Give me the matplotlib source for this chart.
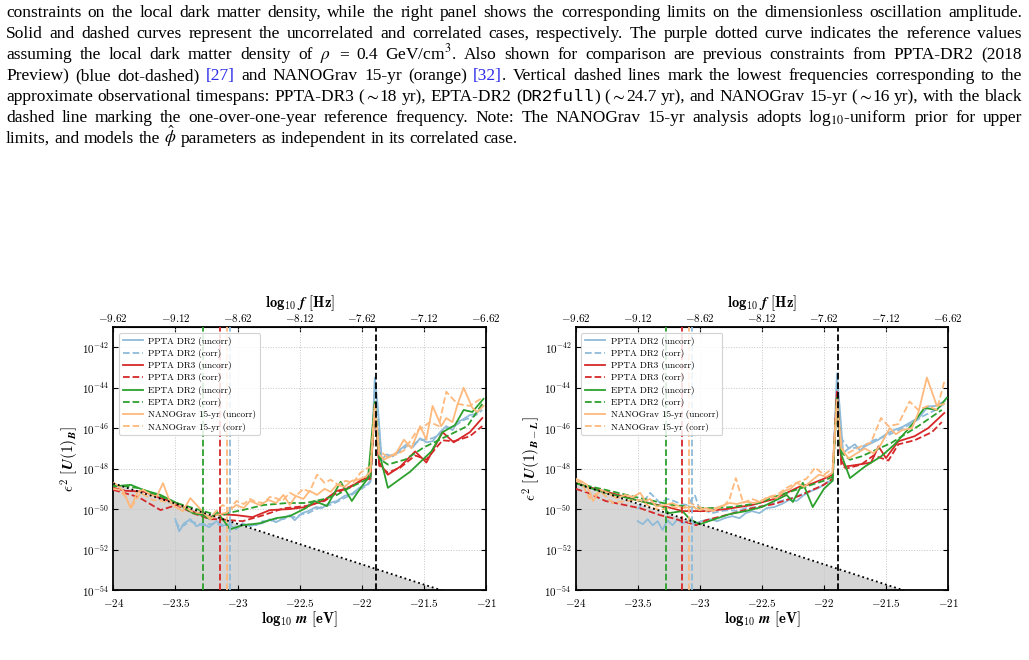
import numpy as np
import matplotlib
matplotlib.use("Agg")
import matplotlib.pyplot as plt
from matplotlib.transforms import IdentityTransform
from matplotlib.ticker import FixedLocator, FuncFormatter, NullLocator

plt.rcParams['mathtext.fontset'] = 'cm'

# ---------------- caption text (one entry per printed line) ----------------
caption_lines = [
    "constraints on the local dark matter density, while the right panel shows the corresponding limits on the dimensionless oscillation amplitude.",
    "Solid and dashed curves represent the uncorrelated and correlated cases, respectively. The purple dotted curve indicates the reference values",
    "assuming the local dark matter density of $\\rho$ = 0.4 GeV/cm$^3$. Also shown for comparison are previous constraints from PPTA-DR2 (2018",
    "Preview) (blue dot-dashed) B:[27] and NANOGrav 15-yr (orange) B:[32]|. Vertical dashed lines mark the lowest frequencies corresponding to the",
    "approximate observational timespans: PPTA-DR3 (|$\\sim$|18 yr), EPTA-DR2 (|M:DR2full|) (|$\\sim$|24.7 yr), and NANOGrav 15-yr (|$\\sim$|16 yr), with the black",
    "dashed line marking the one-over-one-year reference frequency. Note: The NANOGrav 15-yr analysis adopts log$_{10}$-uniform prior for upper",
    "limits, and models the $\\hat{\\phi}$ parameters as independent in its correlated case.",
]

# ---------------- data: log10 m [eV] and log10 eps^2 ----------------
# left panel, U(1)_B
left_ppta2u_m = [-23.5, -23.47, -23.43, -23.38, -23.33, -23.28, -23.23, -23.17, -23.12, -23.06, -23.01, -22.96,
                 -22.9, -22.85, -22.8, -22.74, -22.69, -22.63, -22.58, -22.54, -22.48, -22.43, -22.37, -22.32,
                 -22.26, -22.2, -22.14, -22.08, -22.02, -21.96, -21.93, -21.895, -21.87, -21.84, -21.8, -21.75,
                 -21.7, -21.64, -21.59, -21.53, -21.48, -21.43, -21.37, -21.32, -21.27, -21.23, -21.18, -21.13,
                 -21.08, -21.03]
left_ppta2u_y = [-50.5, -51.1, -50.7, -50.5, -50.85, -50.7, -50.9, -50.6, -50.8, -50.8, -51.0, -50.7,
                 -50.85, -50.75, -50.7, -50.5, -50.65, -50.45, -50.3, -50.55, -50.2, -50.1, -49.9, -49.95,
                 -49.7, -49.6, -49.35, -49.25, -48.95, -48.8, -48.6, -43.5, -45.0, -47.55, -47.3, -47.4,
                 -47.1, -46.8, -46.95, -46.5, -46.7, -46.65, -46.2, -45.9, -46.1, -45.7, -45.55, -45.35,
                 -45.3, -44.9]
left_ppta2c_m = left_ppta2u_m
left_ppta2c_y = [-50.6, -50.9, -50.8, -50.6, -50.7, -50.8, -50.75, -50.7, -50.85, -50.7, -50.9, -50.8,
                 -50.75, -50.8, -50.6, -50.6, -50.5, -50.5, -50.35, -50.4, -50.25, -50.2, -50.0, -49.9,
                 -49.8, -49.65, -49.45, -49.3, -49.05, -48.85, -48.65, -43.9, -45.3, -47.6, -47.45, -47.3,
                 -47.2, -46.9, -46.8, -46.6, -46.55, -46.5, -46.3, -46.0, -45.95, -45.8, -45.6, -45.5,
                 -45.35, -45.1]
left_dr3u_m = [-24.0, -23.9, -23.76, -23.62, -23.49, -23.36, -23.22, -23.15, -23.01, -22.88, -22.74, -22.58,
               -22.45, -22.3, -22.2, -22.1, -22.0, -21.93, -21.895, -21.86, -21.79, -21.69, -21.57, -21.48,
               -21.35, -21.26, -21.13, -21.03]
left_dr3u_y = [-48.95, -49.1, -49.13, -49.46, -49.7, -50.13, -50.4, -50.25, -50.3, -50.4, -50.05, -50.0,
               -49.9, -49.55, -49.1, -48.95, -48.55, -48.4, -44.85, -47.7, -48.3, -47.9, -47.15, -47.7,
               -46.2, -46.7, -46.2, -45.5]
left_dr3c_m = [-24.0, -23.8, -23.62, -23.49, -23.36, -23.22, -23.15, -22.96, -22.79, -22.63, -22.45, -22.3,
               -22.2, -22.0, -21.93, -21.895, -21.86, -21.79, -21.69, -21.57, -21.48, -21.35, -21.26, -21.13,
               -21.03]
left_dr3c_y = [-49.05, -49.4, -50.05, -49.8, -50.2, -50.5, -50.5, -50.6, -50.3, -49.96, -49.85, -49.6,
               -49.2, -48.6, -48.5, -44.9, -47.85, -48.2, -47.95, -47.35, -47.55, -46.6, -46.65, -46.4,
               -45.9]
left_eptau_m = [-24.0, -23.86, -23.76, -23.62, -23.49, -23.36, -23.28, -23.22, -23.17, -23.12, -23.06, -22.96,
                -22.82, -22.69, -22.58, -22.45, -22.38, -22.28, -22.17, -22.08, -22.02, -21.95, -21.895, -21.86,
                -21.79, -21.61, -21.44, -21.35, -21.25, -21.18, -21.11, -21.02]
left_eptau_y = [-48.88, -48.8, -49.05, -49.3, -49.7, -50.2, -50.3, -50.5, -50.1, -50.5, -51.0, -50.8,
                -50.7, -50.45, -50.35, -49.95, -49.6, -49.85, -48.65, -49.6, -49.05, -48.47, -44.7, -47.2,
                -48.95, -48.15, -47.15, -46.2, -45.85, -45.1, -45.2, -44.55]
left_eptac_m = [-24.0, -23.8, -23.62, -23.49, -23.33, -23.22, -23.12, -23.06, -22.96, -22.79, -22.6, -22.45,
                -22.3, -22.2, -22.1, -22.0, -21.93, -21.895, -21.86, -21.79, -21.65, -21.5, -21.35, -21.15,
                -21.02]
left_eptac_y = [-48.8, -48.96, -49.37, -49.7, -50.0, -50.2, -50.3, -50.17, -50.05, -49.8, -49.7, -49.7,
                -49.5, -49.3, -48.95, -48.65, -48.45, -44.8, -47.5, -47.8, -47.55, -46.95, -46.5, -45.9,
                -44.7]
left_ngu_m = [-24.0, -23.97, -23.92, -23.86, -23.81, -23.76, -23.7, -23.65, -23.6, -23.55, -23.5, -23.44,
              -23.38, -23.3, -23.22, -23.17, -23.09, -23.01, -22.95, -22.9, -22.82, -22.75, -22.69, -22.63,
              -22.58, -22.53, -22.47, -22.42, -22.36, -22.3, -22.25, -22.2, -22.14, -22.08, -22.03, -21.97,
              -21.93, -21.895, -21.86, -21.82, -21.77, -21.72, -21.66, -21.6, -21.53, -21.48, -21.43, -21.36,
              -21.32, -21.27, -21.23, -21.18, -21.11, -21.07, -21.02]
left_ngu_y = [-48.7, -48.8, -49.1, -49.95, -49.2, -49.05, -49.3, -49.37, -48.72, -49.54, -49.9, -50.1,
              -49.46, -50.0, -50.5, -50.3, -50.17, -49.8, -49.95, -49.6, -49.8, -49.55, -49.7, -49.3,
              -49.8, -49.35, -49.5, -49.1, -49.3, -49.0, -49.15, -48.8, -48.9, -48.6, -48.55, -48.4,
              -48.15, -44.85, -47.3, -47.55, -47.4, -47.2, -46.57, -47.0, -45.9, -46.57, -44.9, -45.9,
              -45.5, -45.7, -44.84, -44.0, -45.0, -45.2, -44.9]
left_ngc_m = [-24.0, -23.95, -23.9, -23.86, -23.78, -23.68, -23.6, -23.49, -23.42, -23.36, -23.28, -23.22,
              -23.12, -23.06, -23.01, -22.95, -22.9, -22.85, -22.79, -22.74, -22.69, -22.64, -22.58, -22.53,
              -22.47, -22.42, -22.36, -22.3, -22.25, -22.19, -22.13, -22.07, -22.01, -21.96, -21.93, -21.895,
              -21.86, -21.8, -21.72, -21.66, -21.56, -21.45, -21.38, -21.32, -21.23, -21.13, -21.03]
left_ngc_y = [-49.0, -49.05, -49.4, -49.95, -49.2, -49.55, -49.6, -49.8, -49.9, -50.15, -50.2, -50.4,
              -49.8, -50.0, -49.6, -49.75, -49.5, -49.65, -49.7, -49.4, -49.46, -49.6, -49.2, -49.35,
              -49.0, -49.15, -48.3, -48.7, -48.55, -48.8, -48.6, -48.7, -48.2, -48.0, -47.9, -44.9,
              -47.1, -47.4, -47.3, -47.1, -46.17, -45.7, -45.9, -44.2, -44.8, -44.9, -44.5]

# right panel, U(1)_{B-L}
right_ppta2u_m = [-23.5, -23.46, -23.42, -23.38, -23.34, -23.3, -23.26, -23.22, -23.18, -23.14, -23.1, -23.05,
                  -23.01, -22.96, -22.91, -22.86, -22.8, -22.74, -22.68, -22.63, -22.58, -22.52, -22.46, -22.4,
                  -22.34, -22.28, -22.22, -22.16, -22.1, -22.04, -21.98, -21.93, -21.895, -21.87, -21.845, -21.8,
                  -21.75, -21.71, -21.67, -21.62, -21.56, -21.5, -21.43, -21.37, -21.29, -21.23, -21.16, -21.1,
                  -21.03]
right_ppta2u_y = [-50.6, -50.75, -50.5, -50.8, -50.6, -51.03, -50.55, -50.8, -50.5, -50.7, -50.6, -50.75,
                  -50.65, -50.55, -50.5, -50.6, -50.45, -50.35, -50.45, -50.2, -50.1, -50.2, -49.95, -49.9,
                  -49.75, -49.55, -49.6, -49.3, -49.1, -48.95, -48.7, -48.55, -43.3, -45.2, -47.23, -47.0,
                  -46.8, -47.1, -46.9, -46.75, -46.57, -46.3, -46.08, -45.95, -45.67, -45.45, -44.93, -44.9,
                  -44.68]
right_ppta2c_m = [-23.5, -23.45, -23.4, -23.32, -23.26, -23.21, -23.15, -23.1, -23.04, -23.0, -22.95, -22.9,
                  -22.83, -22.76, -22.7, -22.63, -22.55, -22.45, -22.35, -22.25, -22.15, -22.05, -21.98, -21.93,
                  -21.895, -21.86, -21.8, -21.7, -21.6, -21.5, -21.4, -21.3, -21.2, -21.1, -21.03]
right_ppta2c_y = [-50.0, -49.6, -49.2, -49.7, -49.5, -49.6, -49.75, -49.8, -49.3, -50.05, -50.1, -50.2,
                  -50.1, -50.05, -50.1, -49.95, -49.9, -49.8, -49.6, -49.45, -49.2, -48.95, -48.7, -48.6,
                  -44.0, -46.5, -47.0, -46.95, -46.6, -46.4, -46.1, -45.8, -45.4, -45.1, -44.8]
right_dr3u_m = [-24.0, -23.9, -23.76, -23.48, -23.22, -23.14, -22.95, -22.79, -22.58, -22.4, -22.3, -22.2,
                -22.1, -22.0, -21.93, -21.895, -21.86, -21.83, -21.72, -21.62, -21.56, -21.5, -21.4, -21.27,
                -21.16, -21.03]
right_dr3u_y = [-48.7, -48.9, -49.13, -49.6, -49.96, -50.1, -50.1, -50.0, -49.8, -49.5, -49.2, -48.9,
                -48.75, -48.5, -48.3, -44.2, -47.6, -47.9, -47.8, -47.7, -46.9, -47.48, -46.65, -46.4,
                -46.0, -45.25]
right_dr3c_m = [-24.0, -23.9, -23.76, -23.48, -23.32, -23.22, -23.08, -23.03, -22.95, -22.79, -22.58, -22.4,
                -22.2, -22.0, -21.93, -21.895, -21.86, -21.82, -21.7, -21.6, -21.48, -21.4, -21.27, -21.13,
                -21.05]
right_dr3c_y = [-49.0, -49.2, -49.6, -49.96, -50.3, -50.45, -50.7, -50.8, -50.55, -50.3, -49.96, -49.75,
                -49.35, -48.8, -48.5, -44.3, -47.8, -48.0, -47.8, -47.35, -47.6, -46.8, -46.6, -46.2,
                -45.7]
right_eptau_m = [-24.0, -23.76, -23.48, -23.3, -23.25, -23.14, -23.08, -23.0, -22.88, -22.76, -22.63, -22.5,
                 -22.4, -22.3, -22.25, -22.17, -22.09, -22.0, -21.93, -21.895, -21.86, -21.79, -21.67, -21.54,
                 -21.43, -21.29, -21.19, -21.09, -21.01]
right_eptau_y = [-48.72, -49.2, -49.6, -49.88, -50.2, -50.1, -50.5, -50.75, -50.5, -50.25, -50.1, -49.9,
                 -49.6, -49.3, -49.65, -48.7, -49.9, -49.0, -48.6, -44.5, -47.3, -48.47, -47.9, -47.4,
                 -46.8, -45.83, -45.0, -45.1, -44.5]
right_eptac_m = [-24.0, -23.76, -23.48, -23.22, -22.95, -22.74, -22.52, -22.4, -22.2, -22.0, -21.93, -21.895,
                 -21.86, -21.79, -21.7, -21.46, -21.24, -21.05]
right_eptac_y = [-48.72, -49.05, -49.46, -49.8, -49.96, -49.9, -49.7, -49.4, -49.0, -48.6, -48.4, -44.6,
                 -47.2, -47.56, -47.4, -46.74, -45.9, -45.1]
right_ngu_m = [-24.0, -23.95, -23.91, -23.86, -23.8, -23.74, -23.67, -23.6, -23.54, -23.48, -23.44, -23.4,
               -23.35, -23.28, -23.22, -23.14, -23.06, -23.0, -22.95, -22.89, -22.84, -22.76, -22.7, -22.63,
               -22.56, -22.5, -22.44, -22.38, -22.32, -22.27, -22.22, -22.16, -22.1, -22.04, -21.98, -21.93,
               -21.895, -21.86, -21.8, -21.75, -21.67, -21.6, -21.54, -21.47, -21.42, -21.37, -21.29, -21.24,
               -21.17, -21.09, -21.03]
right_ngu_y = [-48.5, -48.64, -48.8, -49.6, -49.05, -49.2, -49.46, -49.3, -49.4, -49.2, -49.6, -49.5,
               -49.88, -49.8, -49.7, -49.96, -49.88, -50.05, -49.95, -50.1, -49.88, -49.7, -49.75, -49.63,
               -49.7, -49.6, -49.4, -49.45, -49.1, -49.0, -48.7, -48.9, -48.6, -48.3, -48.4, -48.2,
               -44.6, -47.0, -47.5, -47.3, -47.0, -47.25, -46.8, -46.0, -46.3, -46.1, -46.0, -45.25,
               -43.5, -44.9, -44.8]
right_ngc_m = [-24.0, -23.95, -23.89, -23.8, -23.7, -23.6, -23.48, -23.4, -23.32, -23.22, -23.15, -23.08,
               -23.0, -22.95, -22.88, -22.81, -22.76, -22.71, -22.65, -22.58, -22.52, -22.45, -22.38, -22.3,
               -22.22, -22.14, -22.07, -22.0, -21.93, -21.895, -21.86, -21.83, -21.7, -21.62, -21.54, -21.48,
               -21.4, -21.31, -21.24, -21.16, -21.09, -21.03]
right_ngc_y = [-48.6, -48.72, -49.46, -49.13, -49.7, -49.6, -49.55, -49.9, -50.05, -49.88, -50.0, -49.7,
               -49.9, -50.1, -49.95, -49.88, -49.5, -48.47, -49.7, -49.5, -49.63, -49.4, -49.3, -48.95,
               -48.7, -48.5, -47.95, -48.3, -48.0, -44.7, -46.8, -47.3, -46.9, -46.7, -45.5, -45.9,
               -45.8, -44.68, -45.1, -44.9, -45.1, -43.7]

# reference (rho = 0.4 GeV/cm^3) line, same in both panels
ref_m = [-24.0, -21.0]
ref_y = [-48.73, -54.73]

# lowest-frequency markers: EPTA-DR2, PPTA-DR3, NANOGrav 15-yr, PPTA-DR2, 1/yr
vline_m = [-23.276, -23.141, -23.088, -23.061, -21.886]

labels = ["PPTA DR2 (uncorr)", "PPTA DR2 (corr)", "PPTA DR3 (uncorr)", "PPTA DR3 (corr)",
          "EPTA DR2 (uncorr)", "EPTA DR2 (corr)", "NANOGrav 15-yr (uncorr)", "NANOGrav 15-yr (corr)"]
bottom_ticks = [-24, -23.5, -23, -22.5, -22, -21.5, -21]
top_ticks = [-9.62, -9.12, -8.62, -8.12, -7.62, -7.12, -6.62]
y_ticks_exp = [-54, -52, -50, -48, -46, -44, -42]
f_offset = 14.38

BLUE = '#8fbbd9'
RED = '#d62728'
GREEN = '#2ca02c'
ORANGE = '#ffb97c'
colors = [BLUE, BLUE, RED, RED, GREEN, GREEN, ORANGE, ORANGE]
vline_colors = [GREEN, RED, ORANGE, BLUE, 'black']

panels = [
    ([(left_ppta2u_m, left_ppta2u_y), (left_ppta2c_m, left_ppta2c_y), (left_dr3u_m, left_dr3u_y),
      (left_dr3c_m, left_dr3c_y), (left_eptau_m, left_eptau_y), (left_eptac_m, left_eptac_y),
      (left_ngu_m, left_ngu_y), (left_ngc_m, left_ngc_y)],
     r'$\boldsymbol{\epsilon^2}\ \mathbf{[}\boldsymbol{U}\mathbf{(1)}_{\boldsymbol{B}}\mathbf{]}$',
     [113.3, 327, 486, 590]),
    ([(right_ppta2u_m, right_ppta2u_y), (right_ppta2c_m, right_ppta2c_y), (right_dr3u_m, right_dr3u_y),
      (right_dr3c_m, right_dr3c_y), (right_eptau_m, right_eptau_y), (right_eptac_m, right_eptac_y),
      (right_ngu_m, right_ngu_y), (right_ngc_m, right_ngc_y)],
     r'$\boldsymbol{\epsilon^2}\ \mathbf{[}\boldsymbol{U}\mathbf{(1)}_{\boldsymbol{B-L}}\mathbf{]}$',
     [575.7, 327, 948, 590]),
]

W, H = 1029, 660
fig = plt.figure(figsize=(W / 100, H / 100), dpi=100)

for series, ylab, (x0, y0, x1, y1) in panels:
    ax = fig.add_axes([x0 / W, 1 - y1 / H, (x1 - x0) / W, (y1 - y0) / H])
    ax.set_yscale('log')
    rx = np.array(ref_m)
    ry = 10.0 ** np.array(ref_y)
    ax.fill_between(rx, 1e-60, ry, color='#d6d6d6', lw=0, zorder=0)
    ax.plot(rx, ry, color='black', ls=':', lw=1.3, zorder=5)
    for xv, c in zip(vline_m, vline_colors):
        ax.axvline(xv, color=c, ls='--', lw=1.3, zorder=4)
    for i, (mm, yy) in enumerate(series):
        ls = '-' if i % 2 == 0 else '--'
        ax.plot(mm, 10.0 ** np.array(yy), color=colors[i], ls=ls, lw=1.3,
                label=labels[i], zorder=3)
    ax.set_xlim(-24, -21)
    ax.set_ylim(1e-54, 1e-41)
    ax.xaxis.set_major_locator(FixedLocator(bottom_ticks))
    ax.xaxis.set_major_formatter(FuncFormatter(lambda v, p: f'${v:g}$'))
    ax.yaxis.set_major_locator(FixedLocator([10.0 ** e for e in y_ticks_exp]))
    ax.yaxis.set_major_formatter(FuncFormatter(lambda v, p: f'$10^{{{int(round(np.log10(v)))}}}$'))
    ax.yaxis.set_minor_locator(NullLocator())
    ax.tick_params(direction='in', labelsize=8, right=True, top=False, length=3.5)
    ax.tick_params(axis='x', pad=5)
    ax.tick_params(axis='y', pad=3)
    ax.grid(True, color='#c4c4c4', ls=':', lw=0.7)
    ax.set_axisbelow(True)
    for s in ax.spines.values():
        s.set_linewidth(1.3)
    ax.set_xlabel(r'$\mathbf{log_{10}}\ \boldsymbol{m}\ \mathbf{[eV]}$', fontsize=10.5, labelpad=0)
    ax.set_ylabel(ylab, fontsize=11, labelpad=1)
    sec = ax.secondary_xaxis('top', functions=(lambda x: x + f_offset, lambda x: x - f_offset))
    sec.xaxis.set_major_locator(FixedLocator(top_ticks))
    sec.xaxis.set_major_formatter(FuncFormatter(lambda v, p: f'${v:.2f}$'))
    sec.tick_params(direction='in', labelsize=8, length=3.5, pad=2)
    sec.set_xlabel(r'$\mathbf{log_{10}}\ \boldsymbol{f}\ \mathbf{[Hz]}$', fontsize=10.5, labelpad=3.5)
    leg = ax.legend(loc='upper left', prop={'family': 'cmr10', 'size': 6.6}, labelspacing=0.36,
                    handlelength=2.2, handletextpad=0.6, borderpad=0.4, framealpha=0.85,
                    edgecolor='#cccccc', bbox_to_anchor=(0.003, 0.995))
    leg.get_frame().set_linewidth(0.8)

# ---------------- justified caption ----------------
r = fig.canvas.get_renderer()
ident = IdentityTransform()
CAP = dict(family='Liberation Serif', math_fontfamily='stix')


def pieces(word):
    out = []
    for part in word.split('|'):
        if part.startswith('B:'):
            out.append((part[2:], {'color': '#2b2be8'}))
        elif part.startswith('M:'):
            out.append((part[2:], {'family': 'Liberation Mono'}))
        else:
            out.append((part, {}))
    return out


def put_word(word, size):
    arts = []
    for s, kw in pieces(word):
        if not s:
            continue
        opts = dict(CAP, fontsize=size, va='baseline', ha='left', transform=ident)
        opts.update(kw)
        arts.append(fig.text(0, 0, s, **opts))
    return arts


def wid(a):
    return a.get_window_extent(r).width


# size the font so that the short last line ends where it does in the page
probe = [put_word(w, 10) for w in caption_lines[-1].split(' ')]
nat = sum(wid(a) for ws in probe for a in ws) + 0.25 * 10 / 72 * 100 * (len(probe) - 1)
for ws in probe:
    for a in ws:
        a.remove()
fs = 0.98 * 10 * (528 - 6) / nat

left_x, right_x = 6, 1022
for i, line in enumerate(caption_lines):
    words = [put_word(w, fs) for w in line.split(' ')]
    widths = [sum(wid(a) for a in ws) for ws in words]
    if i < len(caption_lines) - 1:
        gap = (right_x - left_x - sum(widths)) / (len(words) - 1)
    else:
        gap = 0.25 * fs / 72 * 100
    yb = H - (17.0 + 21.0 * i)
    x = left_x
    for ws, w in zip(words, widths):
        for a in ws:
            a.set_position((x, yb))
            x += wid(a)
        x += gap

fig.savefig('out.png', dpi=100)
